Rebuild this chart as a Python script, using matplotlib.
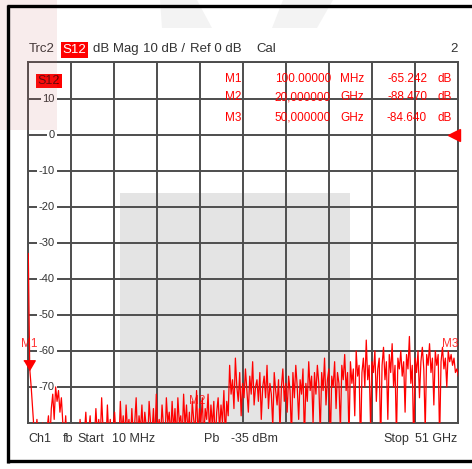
import numpy as np
import matplotlib
matplotlib.use("Agg")
import matplotlib.pyplot as plt
from matplotlib.patches import Rectangle, Polygon
import matplotlib.transforms as mtransforms

plt.rcParams['font.family'] = ['Liberation Sans', 'DejaVu Sans']

# sweep: 10 MHz .. 51 GHz, trace S12 in dB
f_start, f_stop = 0.01, 51.0
s12_db = [
    -33, -65, -70, -76, -82, -84, -79, -85, -83, -86, -80, -84, -87, -82, -78, -85, -76, -72, -79, -70,
    -74, -71, -77, -73, -80, -84, -78, -86, -83, -85, -87, -84, -88, -82, -85, -86, -79, -84, -87, -83,
    -77, -85, -82, -78, -86, -81, -84, -76, -83, -79, -85, -73, -82, -80, -86, -75, -84, -79, -87, -81,
    -77, -84, -80, -86, -74, -83, -78, -85, -75, -82, -79, -86, -76, -84, -80, -73, -85, -78, -82, -75,
    -84, -77, -81, -86, -74, -80, -83, -76, -85, -72, -82, -79, -84, -75, -81, -86, -73, -80, -77, -84,
    -74, -82, -76, -85, -73, -80, -78, -84, -72, -81, -75, -83, -77, -86, -74, -79, -82, -71, -84, -76,
    -80, -73, -85, -76, -79, -72, -83, -75, -81, -74, -86, -77, -73, -82, -75, -80, -71, -84, -74, -78,
    -64, -72, -68, -76, -62, -70, -74, -66, -78, -69, -73, -65, -71, -77, -67, -72, -63, -75, -70, -68,
    -74, -66, -79, -70, -67, -73, -64, -76, -69, -72, -81, -66, -71, -75, -68, -82, -70, -65, -74, -69,
    -77, -67, -71, -84, -66, -73, -64, -70, -79, -68, -72, -65, -85, -69, -74, -63, -71, -67, -80, -66,
    -72, -64, -69, -83, -66, -71, -62, -75, -68, -65, -86, -67, -70, -63, -76, -66, -69, -82, -64, -68,
    -61, -71, -66, -84, -63, -69, -65, -78, -60, -67, -64, -88, -66, -62, -70, -57, -68, -64, -81, -63,
    -66, -60, -74, -65, -62, -86, -64, -59, -68, -63, -79, -61, -66, -58, -70, -64, -84, -62, -65, -60,
    -67, -63, -77, -61, -65, -56, -69, -64, -87, -62, -66, -60, -73, -63, -59, -65, -82, -61, -64, -58,
    -66, -62, -75, -60, -64, -61, -85, -63, -59, -65, -62, -70, -60, -63, -61, -64, -62, -66, -65, -67,
]
freq_ghz = np.linspace(f_start, f_stop, len(s12_db))

marker_names = ["M1", "M2", "M3"]
marker_freq_ghz = [0.1, 20.0, 50.0]
marker_freq_txt = ["100.00000", "20,000000", "50,000000"]
marker_unit = ["MHz", "GHz", "GHz"]
marker_db_txt = ["-65.242", "-88.470", "-84.640"]
marker_db = [-65.242, -88.470, -84.640]
marker_label_db = [-58, -74, -58]

ytick_vals = [10, 0, -10, -20, -30, -40, -50, -60, -70]

W, H = 472, 469
RED = "#ff0000"
TXT = "#333333"
GRID = "#4d4d4d"

fig = plt.figure(figsize=(W / 100, H / 100), dpi=100)
fig.patch.set_facecolor("white")


def fx(x):
    return x / W


def fy(y):
    return 1 - y / H


# main diagram area
ax = fig.add_axes([fx(28.3), fy(423), 430 / W, 360.5 / H])
ax.set_xlim(f_start, f_stop)
ax.set_ylim(-80, 20)
ax.set_xticks(np.linspace(f_start, f_stop, 11))
ax.set_yticks(np.arange(-80, 21, 10))
ax.tick_params(length=0, labelleft=False, labelbottom=False)
ax.set_axisbelow(True)
ax.grid(True, color=GRID, lw=1.4)
for sp in ax.spines.values():
    sp.set_color(GRID)
    sp.set_linewidth(1.4)

ax.add_patch(Rectangle((0.213, 0), 0.535, 0.638, transform=ax.transAxes,
                       facecolor="#e4e4e4", edgecolor="none", zorder=0.2))

bt = mtransforms.blended_transform_factory(ax.transAxes, ax.transData)
for v in ytick_vals:
    ax.text(0.062, v, str(v), transform=bt, ha="right", va="center",
            fontsize=8, color=TXT, zorder=1,
            bbox=dict(facecolor="white", edgecolor="none", pad=1.2))

ax.plot(freq_ghz, s12_db, color=RED, lw=0.9, zorder=3)

# marker M1 triangle (tip on the trace), labels for all markers
tri = [(-1.0, 1.7), (1.0, 1.7), (0.0, 0.0)]
ax.plot([marker_freq_ghz[0]], [marker_db[0]], marker=tri, markersize=14,
        color=RED, ls="none", clip_on=False, zorder=4)
for name, fq, ly in zip(marker_names, marker_freq_ghz, marker_label_db):
    ax.text(fq, ly, name, ha="center", va="center", fontsize=8.5,
            color=RED, alpha=0.8, zorder=4, clip_on=False)

# reference level arrow at 0 dB
ax.plot([0.99], [0], marker="<", markersize=8, color=RED, transform=bt,
        clip_on=False, zorder=4)

# S12 badge inside the diagram
fig.text(fx(49), fy(81), "S12", ha="center", va="center",
         fontsize=9, color="#5a0000", zorder=5,
         bbox=dict(facecolor=RED, edgecolor="none", pad=1.0))

# marker table
rows_y = [79.5, 97, 118]
for i, yy in enumerate(rows_y):
    kw = dict(va="center", fontsize=8.5, color=RED, zorder=5)
    fig.text(fx(241), fy(yy), marker_names[i], ha="right", **kw)
    fig.text(fx(331), fy(yy), marker_freq_txt[i], ha="right", **kw)
    fig.text(fx(340), fy(yy), marker_unit[i], ha="left", **kw)
    fig.text(fx(427), fy(yy), marker_db_txt[i], ha="right", **kw)
    fig.text(fx(437), fy(yy), "dB", ha="left", **kw)

# header line
hk = dict(va="center", fontsize=9.5, color=TXT)
fig.text(fx(28.5), fy(49), "Trc2", ha="left", **hk)
fig.text(fx(74.5), fy(50), "S12", ha="center", va="center", fontsize=9.5, color="white",
         bbox=dict(facecolor=RED, edgecolor="none", pad=1.5))
fig.text(fx(93), fy(49), "dB Mag", ha="left", **hk)
fig.text(fx(143), fy(49), "10 dB /", ha="left", **hk)
fig.text(fx(190), fy(49), "Ref 0 dB", ha="left", **hk)
fig.text(fx(256), fy(49), "Cal", ha="left", **hk)
fig.text(fx(458), fy(49), "2", ha="right", **hk)

# footer line
fk = dict(va="center", fontsize=9, color=TXT)
fig.text(fx(28), fy(439), "Ch1", ha="left", **fk)
fig.text(fx(63), fy(439), "fb", ha="left", **fk)
fig.text(fx(77), fy(439), "Start", ha="left", **fk)
fig.text(fx(112), fy(439), "10 MHz", ha="left", **fk)
fig.text(fx(204), fy(439), "Pb", ha="left", **fk)
fig.text(fx(231), fy(439), "-35 dBm", ha="left", **fk)
fig.text(fx(383), fy(439), "Stop", ha="left", **fk)
fig.text(fx(457), fy(439), "51 GHz", ha="right", **fk)

# overlay: frame, watermark, pink strip
ov = fig.add_axes([0, 0, 1, 1], zorder=10)
ov.set_xlim(0, W)
ov.set_ylim(H, 0)
ov.axis("off")
ov.patch.set_alpha(0)
ov.add_patch(Polygon([(160, 0), (197, 0), (212, 28), (162, 28)], closed=True,
                     facecolor="#d8d8d8", alpha=0.3, edgecolor="none"))
ov.add_patch(Polygon([(283, 0), (333, 0), (317, 28), (272, 28)], closed=True,
                     facecolor="#d8d8d8", alpha=0.3, edgecolor="none"))
ov.plot([8, 8], [5, 463], color="black", lw=2.4, solid_capstyle="butt")
ov.plot([7, W], [6.5, 6.5], color="black", lw=2.4, solid_capstyle="butt")
ov.plot([7, W], [461, 461], color="black", lw=2.4, solid_capstyle="butt")
ov.add_patch(Rectangle((0, 0), 57, 130, facecolor="#c86464", alpha=0.12, edgecolor="none"))

fig.savefig("out.png", dpi=100)
